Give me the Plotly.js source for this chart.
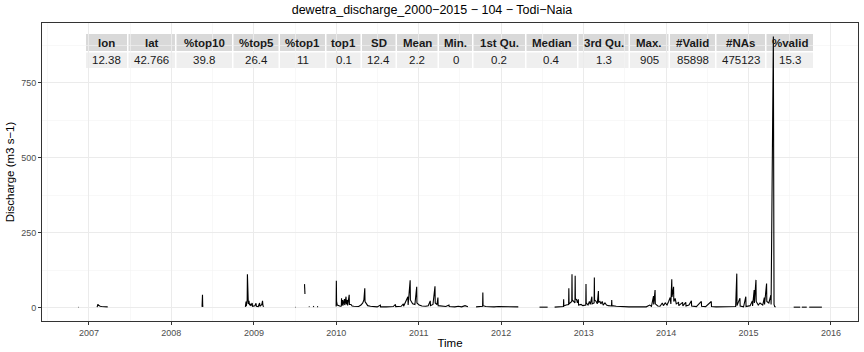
<!DOCTYPE html>
<html>
<head>
<meta charset="utf-8">
<script src="https://cdn.plot.ly/plotly-3.0.1.min.js"></script>
<style>html,body{margin:0;padding:0;background:#fff;} #chart{width:864px;height:352px;}</style>
</head>
<body>
<div id="chart"></div>
<script>
// ---------------- DATA ----------------
// Observed discharge segments (m3 s-1); gaps between segments are missing values
const t2006 = ['2006-11-15','2006-11-17'];
const q2006 = [0.5, 0.8];

const t2007 = ['2007-02-06','2007-02-08','2007-02-10','2007-02-12','2007-02-15','2007-02-20','2007-02-26','2007-03-05','2007-03-12','2007-03-18','2007-03-25'];
const q2007 = [1, 4, 11, 7, 5, 4, 3, 3, 2, 2, 2];

const t2008 = ['2008-05-16','2008-05-17','2008-05-18','2008-05-19','2008-05-20'];
const q2008 = [2, 20, 42, 5, 2];

const t2009a = ['2008-11-24','2008-11-27','2008-11-28','2008-12-02','2008-12-03','2008-12-04','2008-12-06','2008-12-07','2008-12-10','2008-12-12',
                '2008-12-16','2008-12-18','2008-12-24','2008-12-26','2009-01-05','2009-01-10','2009-01-12','2009-01-20','2009-01-26','2009-01-27',
                '2009-02-05','2009-02-08','2009-02-10','2009-02-14'];
const q2009a = [2, 20, 4, 25, 111, 30, 55, 12, 22, 8,
                12, 5, 15, 4, 6, 14, 4, 3, 15, 4,
                10, 22, 5, 3];

const t2009b = ['2009-07-04','2009-07-06'];
const q2009b = [0.5, 0.5];

const t2009c = ['2009-08-13','2009-08-14','2009-08-15'];
const q2009c = [78, 60, 45];

const t2009d = ['2009-09-01','2009-09-04'];
const q2009d = [3, 2];

const t2009e = ['2009-09-20','2009-09-24'];
const q2009e = [2, 4];

const t2009f = ['2009-10-08','2009-10-12'];
const q2009f = [2, 3];

const t2010 = ['2009-12-31','2010-01-01','2010-01-02','2010-01-05','2010-01-12','2010-01-18','2010-01-23','2010-01-24','2010-01-25','2010-01-29',
               '2010-01-30','2010-02-06','2010-02-07','2010-02-13','2010-02-14','2010-02-19','2010-02-20','2010-02-27','2010-02-28','2010-03-07',
               '2010-03-12','2010-03-20','2010-03-30','2010-04-10','2010-04-20','2010-04-28','2010-05-03','2010-05-07','2010-05-08','2010-05-12',
               '2010-05-20','2010-06-01','2010-06-15','2010-07-01','2010-07-15','2010-07-16','2010-08-10','2010-08-25','2010-09-10','2010-09-20',
               '2010-09-21','2010-10-15','2010-10-25','2010-10-26','2010-11-14','2010-11-15','2010-11-24','2010-11-25','2010-12-05','2010-12-15',
               '2010-12-23','2010-12-24','2011-01-03','2011-01-15','2011-02-01','2011-02-12','2011-02-21','2011-02-22','2011-03-05','2011-03-14',
               '2011-03-15','2011-03-23','2011-03-27','2011-03-28','2011-04-15','2011-05-01','2011-05-15','2011-05-16','2011-06-10','2011-06-25',
               '2011-07-10','2011-07-25','2011-08-07'];
const q2010 = [3, 89, 20, 8, 5, 4, 5, 31, 8, 25,
               6, 28, 8, 36, 10, 25, 7, 42, 10, 10,
               5, 4, 3, 3, 8, 15, 25, 64, 20, 15,
               6, 4, 3, 2, 8, 2, 2, 2, 3, 10,
               3, 4, 12, 4, 36, 8, 91, 25, 12, 10,
               69, 15, 8, 5, 4, 6, 22, 6, 10, 71,
               15, 10, 33, 6, 4, 3, 8, 3, 2, 4,
               2, 6, 2];

const t2011 = ['2011-09-12','2011-09-25','2011-10-05','2011-10-11','2011-10-12','2011-10-13','2011-10-25','2011-11-10','2011-12-01','2011-12-20','2012-01-15','2012-02-10','2012-03-17'];
const q2011 = [2, 3, 4, 4, 50, 6, 3, 2, 2, 3, 2, 2, 2];

const t2012 = ['2012-06-19','2012-07-05','2012-07-25'];
const q2012 = [1, 2, 1];

const t2013 = ['2012-08-25','2012-09-10','2012-09-25','2012-10-03','2012-10-04','2012-10-05','2012-10-15','2012-10-26','2012-10-27','2012-10-28',
               '2012-11-09','2012-11-10','2012-11-11','2012-11-17','2012-11-23','2012-11-24','2012-11-25','2012-11-30','2012-12-04','2012-12-08',
               '2012-12-09','2012-12-20','2012-12-28','2013-01-10','2013-01-11','2013-01-12','2013-01-20','2013-01-26','2013-01-30','2013-02-06',
               '2013-02-07','2013-02-16','2013-02-17','2013-02-18','2013-02-25','2013-03-02','2013-03-07','2013-03-08','2013-03-14','2013-03-18',
               '2013-03-24','2013-03-28','2013-04-05','2013-04-12','2013-04-20','2013-05-04','2013-05-05','2013-05-06','2013-05-25','2013-06-10',
               '2013-07-01','2013-07-20','2013-08-10','2013-08-30','2013-09-20','2013-10-05','2013-10-20','2013-10-28','2013-11-06','2013-11-07',
               '2013-11-13','2013-11-14','2013-11-25','2013-12-05','2013-12-15','2013-12-20','2013-12-28','2014-01-05','2014-01-12','2014-01-19',
               '2014-01-22','2014-01-26','2014-01-27','2014-02-03','2014-02-04','2014-02-10','2014-02-15','2014-02-25','2014-02-26','2014-03-15',
               '2014-03-16','2014-03-29','2014-03-30','2014-04-12','2014-04-23','2014-04-24','2014-05-15','2014-06-06','2014-06-07','2014-06-25',
               '2014-07-20','2014-07-21','2014-08-10','2014-09-05','2014-10-01','2014-10-25','2014-11-05','2014-11-10','2014-11-11','2014-11-24',
               '2014-11-25','2014-12-10','2014-12-20','2014-12-21','2015-01-08','2015-01-18','2015-01-19','2015-01-26','2015-01-27','2015-02-03',
               '2015-02-04','2015-02-13','2015-02-21','2015-03-05','2015-03-12','2015-03-13','2015-03-22','2015-03-23','2015-04-01','2015-04-10',
               '2015-04-11','2015-04-21','2015-04-22','2015-04-23','2015-04-24','2015-04-27','2015-05-01'];
const q2013 = [1, 2, 2, 3, 27, 5, 8, 10, 64, 12,
               20, 111, 25, 20, 15, 106, 28, 27, 15, 27,
               8, 10, 6, 8, 78, 15, 8, 20, 10, 36,
               12, 15, 100, 25, 20, 12, 55, 18, 20, 12,
               20, 8, 15, 8, 6, 5, 25, 6, 4, 3,
               2, 2, 2, 2, 3, 2, 8, 4, 38, 10,
               58, 12, 5, 4, 15, 6, 15, 8, 20, 33,
               12, 94, 35, 69, 20, 30, 12, 17, 6, 17,
               5, 17, 5, 8, 22, 5, 3, 20, 4, 3,
               20, 3, 2, 2, 2, 2, 3, 113, 6, 31,
               5, 2, 36, 3, 6, 22, 5, 58, 15, 92,
               20, 8, 15, 8, 33, 10, 80, 20, 15, 41,
               10, 905, 40, 233, 10, 3, 2];

const t2015a = ['2015-07-20','2015-08-18'];
const q2015a = [1, 1];
const t2015b = ['2015-08-25','2015-09-16'];
const q2015b = [1, 1];
const t2015c = ['2015-09-27','2015-10-20','2015-11-22'];
const q2015c = [1, 1.5, 1];

// Summary table (header labels and values)
const tableHeaders = ['lon','lat','%top10','%top5','%top1','top1','SD','Mean','Min.','1st Qu.','Median','3rd Qu.','Max.','#Valid','#NAs','%valid'];
const tableValues  = ['12.38','42.766','39.8','26.4','11','0.1','12.4','2.2','0','0.2','0.4','1.3','905','85898','475123','15.3'];

const yTicks = [0, 250, 500, 750];

// ---------------- BUILD ----------------
const segments = [[t2006,q2006],[t2007,q2007],[t2008,q2008],[t2009a,q2009a],[t2009b,q2009b],[t2009c,q2009c],
  [t2009d,q2009d],[t2009e,q2009e],[t2009f,q2009f],[t2010,q2010],[t2011,q2011],[t2012,q2012],[t2013,q2013],
  [t2015a,q2015a],[t2015b,q2015b],[t2015c,q2015c]];
const xs = [], ys = [];
segments.forEach(([t,q]) => {
  for (let i = 0; i < t.length; i++) { xs.push(t[i]); ys.push(q[i]); }
  xs.push(t[t.length-1]); ys.push(null);
});

const W = 864, H = 352;
const M = {l: 42, r: 6, t: 23, b: 31};
const pw = W - M.l - M.r, ph = H - M.t - M.b;
const px2x = p => (p - M.l) / pw;
const py2y = p => (H - M.b - p) / ph;

// table cell geometry in pixels (layout only)
const colLeft  = [86, 128.5, 176.5, 233.5, 280, 326.5, 362, 397, 439, 473.5, 526.5, 578.5, 630, 670, 716.5, 766.5];
const colRight = [127, 175, 232, 278.5, 325, 360.5, 395.5, 437.5, 472, 525, 577, 628.5, 668.5, 715, 765, 813];
const headRow = [34, 51];
const valRow  = [52.5, 68];

const shapes = [], annotations = [];
const font = 'Liberation Sans, Arial, sans-serif';
tableHeaders.forEach((h, i) => {
  shapes.push({type:'rect', xref:'paper', yref:'paper', layer:'between',
    x0: px2x(colLeft[i]), x1: px2x(colRight[i]), y0: py2y(headRow[1]), y1: py2y(headRow[0]),
    fillcolor:'#d9d9d9', line:{width:0}});
  shapes.push({type:'rect', xref:'paper', yref:'paper', layer:'between',
    x0: px2x(colLeft[i]), x1: px2x(colRight[i]), y0: py2y(valRow[1]), y1: py2y(valRow[0]),
    fillcolor:'#efefef', line:{width:0}});
  const cx = px2x((colLeft[i] + colRight[i]) / 2);
  annotations.push({xref:'paper', yref:'paper', x: cx, y: py2y((headRow[0]+headRow[1])/2),
    text: '<b>' + h + '</b>', showarrow:false, xanchor:'center', yanchor:'middle',
    font:{family:font, size:11.5, color:'#1a1a1a'}});
  annotations.push({xref:'paper', yref:'paper', x: cx, y: py2y((valRow[0]+valRow[1])/2),
    text: tableValues[i], showarrow:false, xanchor:'center', yanchor:'middle',
    font:{family:font, size:11.5, color:'#1a1a1a'}});
});

const trace = {
  x: xs, y: ys, type:'scatter', mode:'lines',
  line:{color:'#000000', width:1.1}, connectgaps:false, hoverinfo:'x+y'
};

const layout = {
  width: W, height: H,
  margin: M,
  paper_bgcolor:'#ffffff', plot_bgcolor:'#ffffff',
  showlegend:false,
  title: {text:'dewetra_discharge_2000\u22122015 \u2212 104 \u2212 Todi\u2212Naia', x:0.5, xref:'container', xanchor:'center',
          y: 1 - 10/H, yref:'container', yanchor:'middle', font:{family:font, size:12.5, color:'#000'}},
  xaxis: {
    type:'date', range:['2006-06-07','2016-04-30'],
    tick0:'2007-01-01', dtick:'M12', tickformat:'%Y',
    ticks:'outside', ticklen:3, tickwidth:1, tickcolor:'#333333',
    tickfont:{family:font, size:9, color:'#4d4d4d'},
    showgrid:true, gridcolor:'#ebebeb', gridwidth:1,
    minor:{tick0:'2006-07-02', dtick:'M12', showgrid:true, gridcolor:'#f4f4f4', gridwidth:0.6, ticks:''},
    showline:true, mirror:true, linecolor:'#333333', linewidth:1,
    zeroline:false, automargin:false,
    title:{text:'Time', font:{family:font, size:11.5, color:'#000'}, standoff:2}
  },
  yaxis: {
    range:[-45.25, 950.25], tickvals: yTicks,
    ticks:'outside', ticklen:3, tickwidth:1, tickcolor:'#333333',
    tickfont:{family:font, size:9, color:'#4d4d4d'},
    showgrid:true, gridcolor:'#ebebeb', gridwidth:1,
    minor:{tickvals:[125,375,625,875], showgrid:true, gridcolor:'#f4f4f4', gridwidth:0.6, ticks:''},
    showline:true, mirror:true, linecolor:'#333333', linewidth:1,
    zeroline:false, automargin:false,
    title:{text:'Discharge (m3 s\u22121)', font:{family:font, size:11.5, color:'#000'}, standoff:4}
  },
  shapes: shapes,
  annotations: annotations
};

Plotly.newPlot('chart', [trace], layout, {displayModeBar:false, staticPlot:true});
</script>
</body>
</html>
